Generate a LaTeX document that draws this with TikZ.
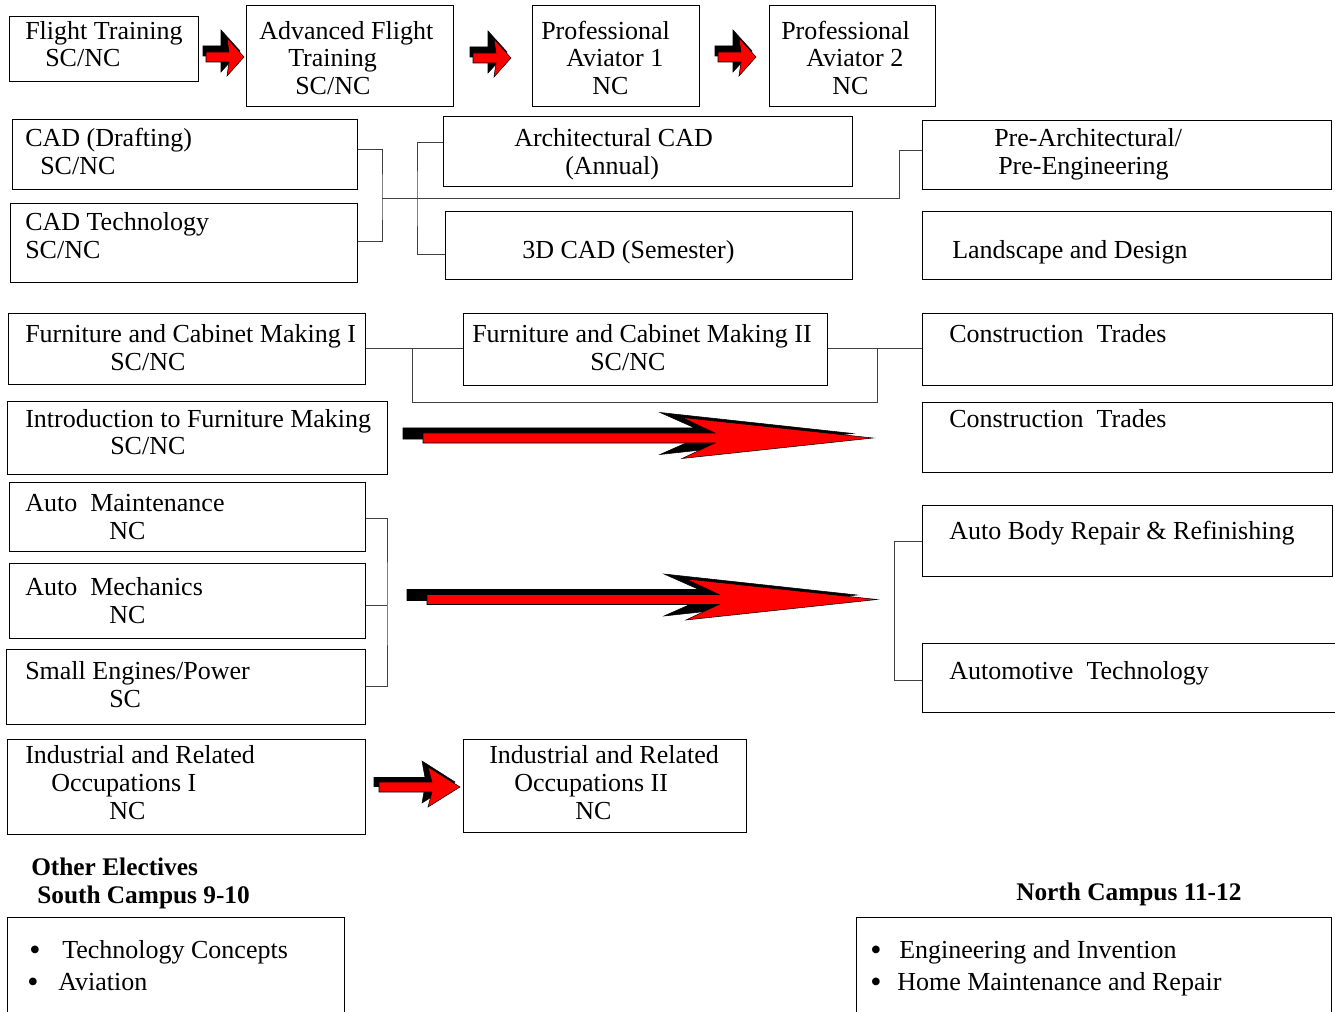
\documentclass[tikz,border=0pt]{standalone}
\usepackage{fontspec}
\setmainfont{Liberation Serif}
\usetikzlibrary{fit}
\newdimen\px \px=0.75pt
\newcommand{\tf}{\fontsize{19.5}{21}\selectfont}
\newcommand{\bul}{\raisebox{-2.5\px}{\fontsize{24}{21}\selectfont\textbullet}}
% block arrow: xs, xnotch, xback, xtip, ycenter, half shaft, half head, style
\newcommand{\fatarrow}[8]{\filldraw[#8] (#1,{#5-#6}) -- (#2,{#5-#6}) -- (#3,{#5-#7}) -- (#4,#5) -- (#3,{#5+#7}) -- (#2,{#5+#6}) -- (#1,{#5+#6}) -- cycle;}
\newcommand{\smallarrow}{%
  \fatarrow{203}{221}{221}{240}{51}{5}{21}{blkarr}%
  \fatarrow{206}{229}{227}{244}{57}{5}{19}{redarr}}
\newcommand{\bigarrow}{%
  \fatarrow{403}{695}{660}{853}{433.5}{5.5}{21}{blkarr}%
  \fatarrow{423}{715}{682}{873}{438}{5}{20.5}{redarr}}
\tikzset{
  box/.style={draw=black, line width=0.75pt, inner sep=0pt, rectangle},
  tl/.style={anchor=base west, inner sep=0pt, font=\tf},
  hd/.style={anchor=base west, inner sep=0pt, font=\fontsize{19}{21}\selectfont\bfseries},
  conn/.style={draw=black!75, line width=0.75pt},
  redarr/.style={fill=red, draw=black, line width=0.4pt},
  blkarr/.style={fill=black, draw=black, line width=0.4pt}
}
\begin{document}
\begin{tikzpicture}[x=0.75pt, y=-0.75pt]
\useasboundingbox (0,0) rectangle (1335,1012);
\fill[white] (0,0) rectangle (1335,1012);

% ---------- Row 1: aviation ----------
\node[box, fit={(9,17)(198,82)}] (ft) {};
\node[tl] (ft1) at (25,40) {Flight Training};
\node[tl] (ft2) at (45,67) {SC/NC};
\node[box, fit={(246,6)(453,107)}] (aft) {};
\node[tl] (aft1) at (259,40) {Advanced Flight};
\node[tl] (aft2) at (288,67) {Training};
\node[tl] (aft3) at (295,95) {SC/NC};
\node[box, fit={(532,6)(699,107)}] (pa1) {};
\node[tl] (pa1a) at (541,40) {Professional};
\node[tl] (pa1b) at (566,67) {Aviator 1};
\node[tl] (pa1c) at (592,95) {NC};
\node[box, fit={(769,6)(935,107)}] (pa2) {};
\node[tl] (pa2a) at (781,40) {Professional};
\node[tl] (pa2b) at (806,67) {Aviator 2};
\node[tl] (pa2c) at (832,95) {NC};
\smallarrow
\begin{scope}[shift={(267,1)}]\smallarrow\end{scope}
\begin{scope}[shift={(512,0)}]\smallarrow\end{scope}

% ---------- Row 2: CAD ----------
\node[box, fit={(12,120)(357,190)}] (cad1) {};
\node[tl] (cad1a) at (25,147) {CAD (Drafting)};
\node[tl] (cad1b) at (40,175) {SC/NC};
\node[box, fit={(10,204)(357,283)}] (cad2) {};
\node[tl] (cad2a) at (25,231) {CAD Technology};
\node[tl] (cad2b) at (25,259) {SC/NC};
\node[box, fit={(443,117)(852,187)}] (arch) {};
\node[tl] (arch1) at (514,147) {Architectural CAD};
\node[tl] (arch2) at (565,175) {(Annual)};
\node[box, fit={(445,212)(852,280)}] (cad3d) {};
\node[tl] (cad3d1) at (522,259) {3D CAD (Semester)};
\node[box, fit={(922,121)(1331,190)}] (pre) {};
\node[tl] (pre1) at (994,147) {Pre-Architectural/};
\node[tl] (pre2) at (998,175) {Pre-Engineering};
\node[box, fit={(922,212)(1331,280)}] (land) {};
\node[tl] (land1) at (952,259) {Landscape and Design};

\coordinate (j1) at (382,199);
\coordinate (j2) at (899,199);
\draw[conn] (cad1.east |- 0,150) -| (j1) |- (cad2.east |- 0,242);
\draw[conn] (j1) -- (j2) |- (pre.west |- 0,151);
\draw[conn] (arch.west |- 0,143) -| (417,199) |- (cad3d.west |- 0,255);

% ---------- Row 3: furniture ----------
\node[box, fit={(8,314)(365,385)}] (fcm1) {};
\node[tl] (fcm1a) at (25,343) {Furniture and Cabinet Making I};
\node[tl] (fcm1b) at (110,371) {SC/NC};
\node[box, fit={(463,314)(827,386)}] (fcm2) {};
\node[tl] (fcm2a) at (472,343) {Furniture and Cabinet Making II};
\node[tl] (fcm2b) at (590,371) {SC/NC};
\node[box, fit={(922,314)(1332,386)}] (ct1) {};
\node[tl] (ct1a) at (949,343) {Construction\ \ Trades};
\node[box, fit={(7,402)(387,474)}] (intro) {};
\node[tl] (intro1) at (25,427) {Introduction to Furniture Making};
\node[tl] (intro2) at (110,455) {SC/NC};
\node[box, fit={(922,403)(1332,472)}] (ct2) {};
\node[tl] (ct2a) at (949,427) {Construction\ \ Trades};

\coordinate (j4) at (412,349);
\coordinate (j5) at (877,349);
\draw[conn] (fcm1.east |- j4) -- (fcm2.west |- j4);
\draw[conn] (j4) |- (877,403) -- (j5);
\draw[conn] (fcm2.east |- j5) -- (ct1.west |- j5);
\bigarrow

% ---------- Row 4: auto ----------
\node[box, fit={(9,482)(365,551)}] (am) {};
\node[tl] (am1) at (25,511) {Auto\ \ Maintenance};
\node[tl] (am2) at (109,539) {NC};
\node[box, fit={(9,563)(365,638)}] (amech) {};
\node[tl] (amech1) at (25,595) {Auto\ \ Mechanics};
\node[tl] (amech2) at (109,623) {NC};
\node[box, fit={(6,649)(365,724)}] (se) {};
\node[tl] (se1) at (25,679) {Small Engines/Power};
\node[tl] (se2) at (109,707) {SC};
\node[box, fit={(922,505)(1332,576)}] (abody) {};
\node[tl] (abody1) at (949,539) {Auto Body Repair \& Refinishing};
\node[box, fit={(922,643)(1345,712)}] (atech) {};
\node[tl] (atech1) at (949,679) {Automotive\ \ Technology};

\draw[conn] (am.east |- 0,518) -| (387,605) |- (se.east |- 0,686);
\draw[conn] (amech.east |- 0,605) -- (387,605);
\draw[conn] (abody.west |- 0,541) -| (894,610) |- (atech.west |- 0,680);
\begin{scope}[shift={(4,161.5)}]\bigarrow\end{scope}

% ---------- Row 5: industrial ----------
\node[box, fit={(7,739)(365,834)}] (ind1) {};
\node[tl] (ind1a) at (25,763) {Industrial and Related};
\node[tl] (ind1b) at (51,791) {Occupations I};
\node[tl] (ind1c) at (109,819) {NC};
\node[box, fit={(463,739)(746,832)}] (ind2) {};
\node[tl] (ind2a) at (489,763) {Industrial and Related};
\node[tl] (ind2b) at (514,791) {Occupations II};
\node[tl] (ind2c) at (575,819) {NC};
\fatarrow{374}{425}{422}{455}{782}{4.5}{21}{blkarr}
\fatarrow{379}{432}{428}{460}{787}{5}{20}{redarr}

% ---------- Other electives ----------
\node[hd] (oe1) at (31,875) {Other Electives};
\node[hd] (oe2) at (37,903) {South Campus 9-10};
\node[hd] (nc1) at (1016,900) {North Campus 11-12};
\node[box, fit={(7,917)(344,1040)}] (sbox) {};
\node[tl] (s1) at (29,958) {\makebox[33\px][l]{\bul}Technology Concepts};
\node[tl] (s2) at (27,990) {\makebox[31\px][l]{\bul}Aviation};
\node[box, fit={(856,917)(1331,1040)}] (nbox) {};
\node[tl] (n1) at (870,958) {\makebox[29\px][l]{\bul}Engineering and Invention};
\node[tl] (n2) at (870,990) {\makebox[27\px][l]{\bul}Home Maintenance and Repair};
\end{tikzpicture}
\end{document}
